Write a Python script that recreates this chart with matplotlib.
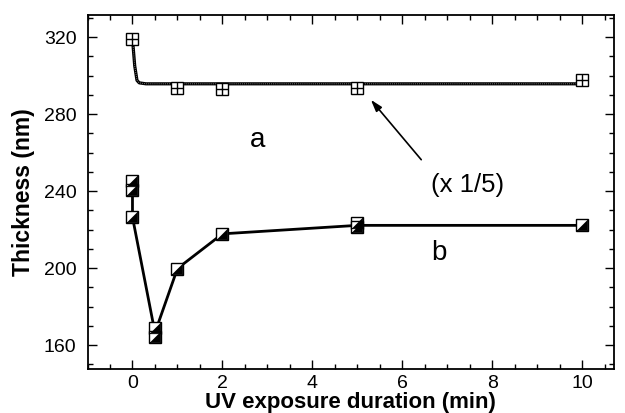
import matplotlib
matplotlib.use("Agg")
import matplotlib.pyplot as plt
from matplotlib.ticker import MultipleLocator

plt.rcParams['font.family'] = ['Liberation Sans', 'DejaVu Sans']

# series a (x 1/5): measured points and fitted curve
a_x = [0, 1, 2, 5, 10]
a_y = [319, 293.5, 293.2, 293.5, 297.5]
a_fit_x = [0, 0.05, 0.1, 0.15, 0.3, 10]
a_fit_y = [319, 305, 297.5, 296.2, 295.7, 295.7]

# series b: measured points and connecting line
b_x = [0, 0, 0, 0.5, 0.5, 1, 2, 5, 5, 10]
b_y = [245.2, 240.4, 226.5, 169.1, 164.4, 199.8, 217.8, 223.4, 221.3, 222.2]
b_line_x = [0, 0, 0.5, 1, 2, 5, 10]
b_line_y = [240.4, 226.5, 166.5, 199.8, 217.8, 222.2, 222.2]

fig = plt.figure(figsize=(6.25, 4.13), dpi=100)
ax = fig.add_axes([0.14, 0.106, 0.842, 0.858])

# a: thick curve with dotted texture
ax.plot(a_fit_x, a_fit_y, color='black', lw=2.3, zorder=2)
ax.plot(a_fit_x, a_fit_y, color='#999999', lw=0.6, ls=(0, (1, 1.5)), zorder=2)
ax.plot(a_x, a_y, ls='none', marker='s', ms=8.8, mfc='white', mec='black', mew=1.0, zorder=3)
ax.plot(a_x, a_y, ls='none', marker='+', ms=8.8, mec='black', mew=1.0, zorder=4)

# b: line + half-filled squares
ax.plot(b_line_x, b_line_y, color='black', lw=2.0, zorder=2)
ax.plot(b_x, b_y, ls='none', marker='s', ms=8.6, mfc='white', mec='black', mew=1.0, zorder=3)
tri = [(-1, -1), (1, -1), (1, 1), (-1, -1)]
ax.plot(b_x, b_y, ls='none', marker=tri, ms=7.6, mfc='black', mec='black', mew=0.5, zorder=4)

ax.text(2.78, 266.7, 'a', fontsize=20, ha='center', va='center')
ax.text(6.82, 208, 'b', fontsize=20, ha='center', va='center')
ax.text(7.45, 243.4, '(x 1/5)', fontsize=18.5, ha='center', va='center')
ax.annotate('', xy=(5.3, 287.4), xytext=(6.42, 256.3),
            arrowprops=dict(arrowstyle='-|>,head_length=0.7,head_width=0.22',
                            color='black', lw=1.2, shrinkA=0, shrinkB=0))

ax.set_xlim(-1, 10.7)
ax.set_ylim(147.5, 331.5)
ax.xaxis.set_major_locator(MultipleLocator(2))
ax.xaxis.set_minor_locator(MultipleLocator(0.5))
ax.yaxis.set_major_locator(MultipleLocator(40))
ax.yaxis.set_minor_locator(MultipleLocator(10))
ax.tick_params(which='both', direction='in', top=True, right=True, labelsize=14, width=1.0)
ax.tick_params(which='major', length=6.5)
ax.tick_params(axis='y', which='major', pad=8)
ax.tick_params(axis='x', which='major', pad=4)
ax.tick_params(which='minor', length=3.5)
for s in ax.spines.values():
    s.set_linewidth(1.3)

ax.set_xlabel('UV exposure duration (min)', fontsize=16, fontweight='bold', labelpad=0)
ax.set_ylabel('Thickness (nm)', fontsize=16.5, fontweight='bold', labelpad=6)

fig.savefig('out.png', dpi=100)
